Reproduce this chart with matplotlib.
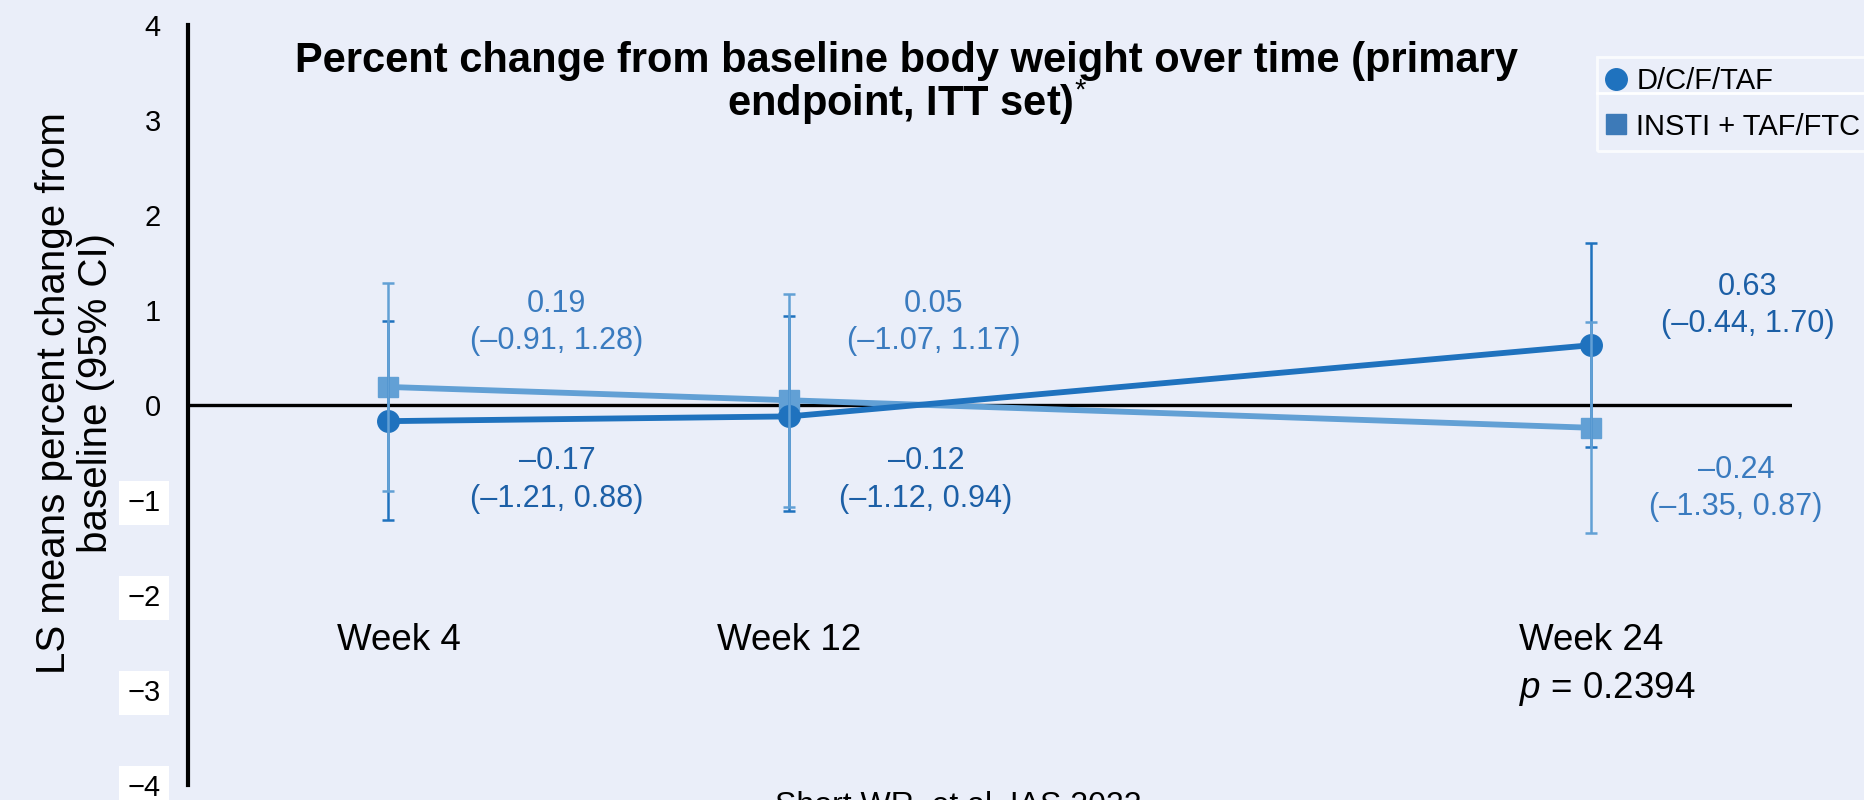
import matplotlib
matplotlib.use("Agg")
import matplotlib.pyplot as plt
from matplotlib.lines import Line2D

plt.rcParams['font.family'] = ['Liberation Sans', 'DejaVu Sans']
plt.rcParams['mathtext.fontset'] = 'custom'
plt.rcParams['mathtext.rm'] = 'Liberation Sans'
plt.rcParams['mathtext.it'] = 'Liberation Sans:italic'
plt.rcParams['mathtext.bf'] = 'Liberation Sans:bold'

# LS mean percent change from baseline body weight (95% CI)
weeks = ['Week 4', 'Week 12', 'Week 24']
x_pos = [1, 2, 4]

dcf_mean = [-0.17, -0.12, 0.63]
dcf_lo = [-1.21, -1.12, -0.44]
dcf_hi = [0.88, 0.94, 1.70]

insti_mean = [0.19, 0.05, -0.24]
insti_lo = [-0.91, -1.07, -1.35]
insti_hi = [1.28, 1.17, 0.87]

p_value = 0.2394

# colours
dark = '#1f72be'
light = '#62a0d5'
dark_txt = '#1c5fa6'
light_txt = '#3a7bbf'
bg = '#eaeef9'

fig = plt.figure(figsize=(18.65, 8), dpi=100, facecolor=bg)
ax = fig.add_axes([188/1865, 1 - 785/800, (1792 - 188)/1865, 760/800])
ax.set_facecolor('none')

ax.axhline(0, color='black', lw=2.4, zorder=1)

# INSTI arm underneath, D/C/F/TAF on top
ax.plot(x_pos, insti_mean, color=light, lw=4.2, marker='s', ms=15, zorder=3)
ax.plot(x_pos, dcf_mean, color=dark, lw=4.2, marker='o', ms=15.5, zorder=4)

ax.errorbar(x_pos, dcf_mean,
            yerr=[[m - l for m, l in zip(dcf_mean, dcf_lo)], [h - m for m, h in zip(dcf_mean, dcf_hi)]],
            fmt='none', ecolor=dark, elinewidth=1.8, capsize=4.3, capthick=1.8, zorder=5)
ax.errorbar(x_pos, insti_mean,
            yerr=[[m - l for m, l in zip(insti_mean, insti_lo)], [h - m for m, h in zip(insti_mean, insti_hi)]],
            fmt='none', ecolor=light, elinewidth=1.8, capsize=4.3, capthick=1.8, zorder=5)


def fmt(v):
    return f'{v:.2f}'.replace('-', '\u2013')


# value labels: higher arm above the zero line, lower arm below
upper_dx = [0.42, 0.36, 0.39]
lower_dx = [0.42, 0.34, 0.36]
for i, x in enumerate(x_pos):
    if insti_mean[i] > dcf_mean[i]:
        up = (insti_mean[i], insti_lo[i], insti_hi[i], light_txt)
        dn = (dcf_mean[i], dcf_lo[i], dcf_hi[i], dark_txt)
    else:
        up = (dcf_mean[i], dcf_lo[i], dcf_hi[i], dark_txt)
        dn = (insti_mean[i], insti_lo[i], insti_hi[i], light_txt)
    up_y = 1.05 if i == 2 else 0.87
    dn_y = -0.88 if i == 2 else -0.79
    ax.text(x + upper_dx[i], up_y, f'{fmt(up[0])}\n({fmt(up[1])}, {fmt(up[2])})',
            ha='center', va='center', fontsize=22, color=up[3], linespacing=1.32)
    ax.text(x + lower_dx[i], dn_y, f'{fmt(dn[0])}\n({fmt(dn[1])}, {fmt(dn[2])})',
            ha='center', va='center', fontsize=22, color=dn[3], linespacing=1.32)

week_dx = [0.025, 0.0, 0.0]
for x, w, d in zip(x_pos, weeks, week_dx):
    ax.text(x + d, -2.48, w, ha='center', va='center', fontsize=26.5)
ax.text(x_pos[-1] + 0.04, -2.99, f'$p$ = {p_value}', ha='center', va='center', fontsize=26.5)

ax.set_xlim(0.5, 4.5)
ax.set_ylim(-4, 4)
ax.set_xticks([])
yt = list(range(-4, 5))
ax.set_yticks(yt, labels=[f'{v}'.replace('-', '\u2212') for v in yt])
ax.tick_params(axis='y', length=0, pad=19.5, labelsize=21)
for v, lab in zip(yt, ax.get_yticklabels()):
    if v < 0:
        lab.set_bbox(dict(facecolor='white', edgecolor='none', pad=6))

for s in ['top', 'right', 'bottom']:
    ax.spines[s].set_visible(False)
ax.spines['left'].set_linewidth(3)

fig.text(75/1865, 1 - 393/800, 'LS means percent change from\nbaseline (95% CI)', rotation=90,
         ha='center', va='center', fontsize=29, linespacing=1.15, multialignment='center')

fig.text(907/1865, 1 - 84/800,
         'Percent change from baseline body weight over time (primary\nendpoint, ITT set)$^{*}$',
         ha='center', va='center', fontsize=30, fontweight='bold', linespacing=0.93)

handles = [Line2D([], [], color=dark, marker='o', ls='none', ms=15.5),
           Line2D([], [], color='#3d7ab8', marker='s', ls='none', ms=15)]
leg = fig.legend(handles, ['D/C/F/TAF', 'INSTI + TAF/FTC'], loc='upper left',
                 bbox_to_anchor=(1597/1865, 1 - 57/800), borderaxespad=0, fontsize=21,
                 frameon=True, facecolor='none', edgecolor='white', fancybox=False,
                 handlelength=0.6, handletextpad=0.4, labelspacing=0.6, borderpad=0.35)
leg.get_frame().set_linewidth(2)
fig.add_artist(Line2D([1597/1865, 1.0], [1 - 93/800, 1 - 93/800], color='white', lw=2))

fig.text(958/1865, 1 - 791/800, 'Short WR, et al. IAS 2022', ha='center', va='top', fontsize=23)

fig.savefig('out.png', dpi=100, facecolor=bg)
